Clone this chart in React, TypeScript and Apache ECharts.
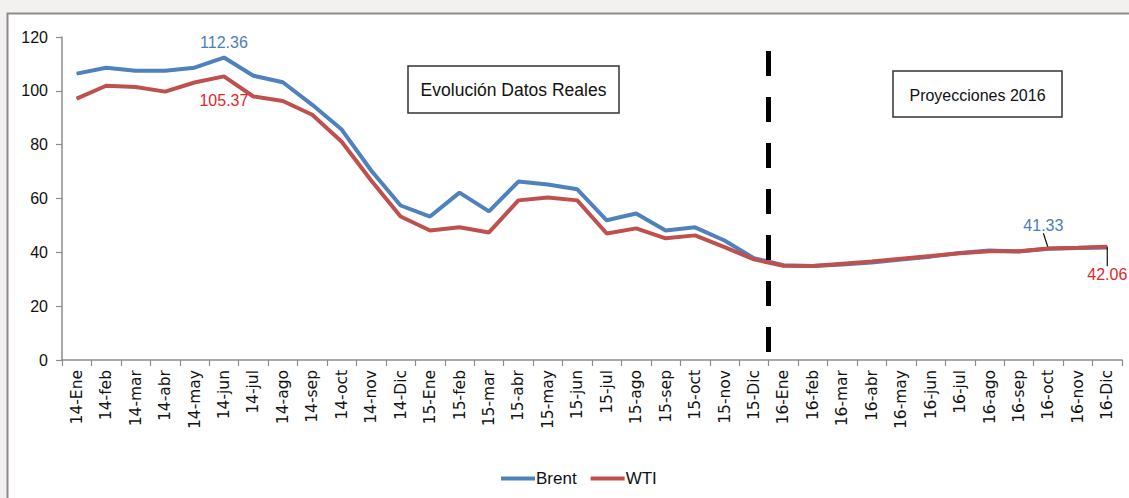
import React, { useEffect, useRef } from "react";
import * as echarts from "echarts";

const categories = [
  "14-Ene", "14-feb", "14-mar", "14-abr", "14-may", "14-jun", "14-jul", "14-ago", "14-sep", "14-oct", "14-nov", "14-Dic",
  "15-Ene", "15-feb", "15-mar", "15-abr", "15-may", "15-jun", "15-jul", "15-ago", "15-sep", "15-oct", "15-nov", "15-Dic",
  "16-Ene", "16-feb", "16-mar", "16-abr", "16-may", "16-jun", "16-jul", "16-ago", "16-sep", "16-oct", "16-nov", "16-Dic",
];

const brent = [
  106.4, 108.6, 107.5, 107.5, 108.6, 112.36, 105.6, 103.2, 94.8, 85.6, 70.4, 57.4,
  53.3, 62.2, 55.2, 66.3, 65.2, 63.4, 51.9, 54.4, 48.1, 49.3, 44.4, 37.8,
  35.2, 34.9, 35.5, 36.2, 37.3, 38.4, 39.8, 40.7, 40.3, 41.33, 41.6, 41.8,
];

const wti = [
  97.1, 101.9, 101.4, 99.7, 103.1, 105.37, 97.9, 96.2, 91.1, 81.1, 66.7, 53.3,
  48.1, 49.3, 47.4, 59.3, 60.4, 59.3, 47.0, 48.9, 45.2, 46.3, 41.9, 37.4,
  35.0, 34.9, 35.8, 36.6, 37.6, 38.6, 39.7, 40.4, 40.4, 41.4, 41.7, 42.06,
];

const yTicks = [0, 20, 40, 60, 80, 100, 120];
const splitIndex = 24; // boundary between real data and projections
const realLabel = "Evolución Datos Reales";
const projLabel = "Proyecciones 2016";

const BLUE = "#4f81bd";
const RED = "#c0504d";
const BLUE_TXT = "#4a7ebb";
const RED_TXT = "#e2262c";

export default function App() {
  const ref = useRef<HTMLDivElement>(null);

  useEffect(() => {
    if (!ref.current) return;
    const chart = echarts.init(ref.current, null, { renderer: "svg" });

    const guide = { show: true, lineStyle: { color: "#111", width: 1.2 } };

    const brentData = brent.map((v, i) => {
      if (i === 5) {
        return { value: v, label: { show: true, position: "top", distance: 7, color: BLUE_TXT } };
      }
      if (i === 33) {
        return {
          value: v,
          label: { show: true, position: "top", distance: 5, color: BLUE_TXT },
          labelLine: guide,
        };
      }
      return v;
    });
    const wtiData = wti.map((v, i) => {
      if (i === 5) {
        return { value: v, label: { show: true, position: "bottom", distance: 16, color: RED_TXT } };
      }
      if (i === wti.length - 1) {
        return {
          value: v,
          label: { show: true, position: "bottom", distance: 5, color: RED_TXT },
          labelLine: guide,
        };
      }
      return v;
    });

    const labelFont = { fontSize: 16, fontFamily: "Liberation Sans" };

    const option: any = {
      animation: false,
      backgroundColor: "#f2f1ef",
      textStyle: { fontFamily: "Liberation Sans" },
      grid: { left: 62, right: 7, top: 37, bottom: 138, containLabel: false },
      legend: {
        data: ["Brent", "WTI"],
        left: 496,
        top: 465,
        icon: "rect",
        itemWidth: 34,
        itemHeight: 4,
        itemGap: 14,
        textStyle: { fontSize: 17, color: "#111", fontFamily: "Liberation Sans", padding: [0, 0, 0, -4] },
        selectedMode: false,
      },
      xAxis: [
        {
          type: "category",
          data: categories,
          boundaryGap: true,
          axisLine: { lineStyle: { color: "#8c8c8c", width: 1.5 } },
          axisTick: { show: true, interval: 0, length: 6, lineStyle: { color: "#8c8c8c", width: 1.2 } },
          axisLabel: {
            interval: 0,
            rotate: 90,
            margin: 10,
            fontSize: 15.5,
            fontFamily: "DejaVu Sans",
            color: "#111",
          },
          splitLine: { show: false },
        },
        { type: "value", min: 0, max: categories.length, show: false },
      ],
      yAxis: {
        type: "value",
        min: yTicks[0],
        max: yTicks[yTicks.length - 1],
        interval: 20,
        axisLine: { show: true, lineStyle: { color: "#8c8c8c", width: 1.5 } },
        axisTick: { show: true, length: 6, lineStyle: { color: "#8c8c8c", width: 1.2 } },
        axisLabel: { margin: 14, fontSize: 16, color: "#111", fontFamily: "Liberation Sans" },
        splitLine: { show: false },
      },
      series: [
        {
          name: "Brent",
          type: "line",
          data: brentData,
          symbol: "circle",
          symbolSize: 1,
          showSymbol: true,
          itemStyle: { color: BLUE },
          lineStyle: { color: BLUE, width: 4 },
          label: { ...labelFont },
          labelLine: { show: false },
          labelLayout: (p: any) => (p.dataIndex === 33 ? { dx: -5, dy: -10 } : {}),
          emphasis: { disabled: true },
          z: 3,
        },
        {
          name: "WTI",
          type: "line",
          data: wtiData,
          symbol: "circle",
          symbolSize: 1,
          showSymbol: true,
          itemStyle: { color: RED },
          lineStyle: { color: RED, width: 4 },
          label: { ...labelFont },
          labelLine: { show: false },
          labelLayout: (p: any) => (p.dataIndex === wti.length - 1 ? { dy: 14 } : {}),
          emphasis: { disabled: true },
          z: 4,
        },
        {
          name: "split",
          type: "line",
          xAxisIndex: 1,
          yAxisIndex: 0,
          data: [],
          silent: true,
          markLine: {
            silent: true,
            symbol: ["none", "none"],
            label: { show: false },
            lineStyle: { color: "#000", width: 5, type: [25, 21], cap: "butt" },
            data: [[{ coord: [splitIndex, 114.8] }, { coord: [splitIndex, 3] }]],
          },
          z: 5,
        },
      ],
      graphic: [
        {
          type: "rect",
          z: -10,
          silent: true,
          shape: { x: 7.5, y: 13.5, width: 1300, height: 700 },
          style: { fill: "#ffffff", stroke: "#8c8c8c", lineWidth: 2 },
        },
        {
          type: "group",
          x: 408,
          y: 66,
          z: 10,
          children: [
            {
              type: "rect",
              shape: { x: 0, y: 0, width: 211, height: 47 },
              style: { fill: "#ffffff", stroke: "#333", lineWidth: 1.5 },
            },
            {
              type: "text",
              x: 105.5,
              y: 24,
              style: {
                text: realLabel,
                align: "center",
                verticalAlign: "middle",
                fontSize: 17.5,
                fontFamily: "Liberation Sans",
                fill: "#111",
              },
            },
          ],
        },
        {
          type: "group",
          x: 893,
          y: 71,
          z: 10,
          children: [
            {
              type: "rect",
              shape: { x: 0, y: 0, width: 169, height: 46 },
              style: { fill: "#ffffff", stroke: "#333", lineWidth: 1.5 },
            },
            {
              type: "text",
              x: 84.5,
              y: 24,
              style: {
                text: projLabel,
                align: "center",
                verticalAlign: "middle",
                fontSize: 16,
                fontFamily: "Liberation Sans",
                fill: "#111",
              },
            },
          ],
        },
      ],
    };

    chart.setOption(option);
    return () => chart.dispose();
  }, []);

  return (
    <div
      ref={ref}
      style={{ position: "fixed", left: 0, top: 0, width: 1129, height: 498 }}
    />
  );
}
